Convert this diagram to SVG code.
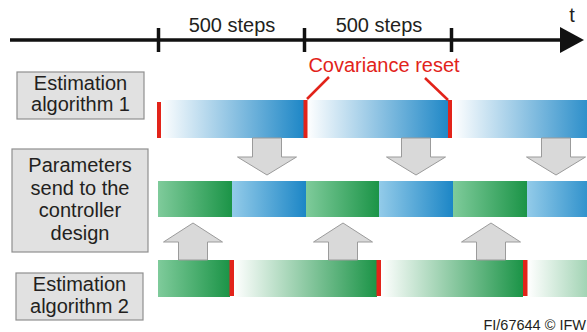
<svg xmlns="http://www.w3.org/2000/svg" width="587" height="332" viewBox="0 0 587 332">
<style>
text{font-family:"Liberation Sans",Arial,sans-serif;fill:#231f20}
.lbl{font-size:20px;text-anchor:middle}
.box{fill:#e1e1e1;stroke:#8f8f8f;stroke-width:1.2}
.red{fill:#e2231a}
.arr{fill:#d9d9d9;stroke:#9b9b9b;stroke-width:1}
.axis{stroke:#111;stroke-width:3.5;fill:none}
</style>
<defs>
<linearGradient id="wb" x1="0" x2="1" y1="0" y2="0"><stop offset="0" stop-color="#ffffff"/><stop offset="1" stop-color="#1c86c6"/></linearGradient>
<linearGradient id="lb" x1="0" x2="1" y1="0" y2="0"><stop offset="0" stop-color="#93cbe9"/><stop offset="1" stop-color="#1c86c6"/></linearGradient>
<linearGradient id="lg" x1="0" x2="1" y1="0" y2="0"><stop offset="0" stop-color="#7fcb9b"/><stop offset="1" stop-color="#1b9447"/></linearGradient>
<linearGradient id="wg" x1="0" x2="1" y1="0" y2="0"><stop offset="0" stop-color="#ffffff"/><stop offset="1" stop-color="#1b9447"/></linearGradient>
<linearGradient id="wb3" gradientUnits="userSpaceOnUse" x1="453" x2="599" y1="0" y2="0"><stop offset="0" stop-color="#ffffff"/><stop offset="1" stop-color="#1c86c6"/></linearGradient>
<linearGradient id="wg3" gradientUnits="userSpaceOnUse" x1="528" x2="674" y1="0" y2="0"><stop offset="0" stop-color="#ffffff"/><stop offset="1" stop-color="#1b9447"/></linearGradient>
<linearGradient id="lb3" gradientUnits="userSpaceOnUse" x1="527" x2="601" y1="0" y2="0"><stop offset="0" stop-color="#93cbe9"/><stop offset="1" stop-color="#1c86c6"/></linearGradient>
<symbol id="down" overflow="visible"><path class="arr" d="M-14.5,0 V19 H-29.5 L0,37 L29.5,19 H14.5 V0 Z"/></symbol>
<symbol id="up" overflow="visible"><path class="arr" d="M-14.5,0 V-18 H-29.5 L0,-37 L29.5,-18 H14.5 V0 Z"/></symbol>
</defs>

<g id="timeline">
<line class="axis" x1="10" y1="40" x2="562" y2="40"/>
<path d="M560,27 L584,40 L560,53 Z" fill="#111"/>
<line class="axis" x1="158.5" y1="28" x2="158.5" y2="52"/>
<line class="axis" x1="304.5" y1="28" x2="304.5" y2="52"/>
<line class="axis" x1="451.5" y1="28" x2="451.5" y2="52"/>
<text class="lbl" x="232" y="32">500 steps</text>
<text class="lbl" x="379" y="32">500 steps</text>
<text class="lbl" x="572" y="22">t</text>
</g>

<g id="label-est1">
<rect class="box" x="17" y="72" width="127" height="47"/>
<text class="lbl" x="80.5" y="90">Estimation</text>
<text class="lbl" x="80.5" y="111">algorithm 1</text>
</g>

<g id="label-params">
<rect class="box" x="12" y="149" width="136" height="103"/>
<text class="lbl" x="80" y="172">Parameters</text>
<text class="lbl" x="80" y="194.5">send to the</text>
<text class="lbl" x="80" y="217">controller</text>
<text class="lbl" x="80" y="239.5">design</text>
</g>

<g id="label-est2">
<rect class="box" x="16" y="273" width="127" height="47"/>
<text class="lbl" x="79.5" y="291">Estimation</text>
<text class="lbl" x="79.5" y="313">algorithm 2</text>
</g>

<g id="row-est1">
<rect x="160" y="100" width="145" height="38" fill="url(#wb)"/>
<rect x="307" y="100" width="144" height="38" fill="url(#wb)"/>
<rect x="453" y="100" width="134" height="38" fill="url(#wb3)"/>
<rect class="red" x="157" y="102" width="4" height="36"/>
<rect class="red" x="303.5" y="100" width="4" height="38"/>
<rect class="red" x="448" y="100" width="4" height="38"/>
</g>

<g id="covariance-reset">
<text x="384" y="72" font-size="20" text-anchor="middle" style="fill:#e2231a">Covariance reset</text>
<line x1="329" y1="77" x2="307" y2="99" stroke="#e2231a" stroke-width="2.5"/>
<line x1="425" y1="78" x2="448" y2="100" stroke="#e2231a" stroke-width="2.5"/>
</g>

<g id="row-params">
<rect x="158" y="181" width="74" height="36" fill="url(#lg)"/>
<rect x="232" y="181" width="74" height="36" fill="url(#lb)"/>
<rect x="306" y="181" width="73" height="36" fill="url(#lg)"/>
<rect x="379" y="181" width="74" height="36" fill="url(#lb)"/>
<rect x="453" y="181" width="74" height="36" fill="url(#lg)"/>
<rect x="527" y="181" width="60" height="36" fill="url(#lb3)"/>
</g>

<g id="row-est2">
<rect x="158" y="260" width="72" height="37" fill="url(#lg)"/>
<rect x="234" y="260" width="143" height="37" fill="url(#wg)"/>
<rect x="381" y="260" width="142" height="37" fill="url(#wg)"/>
<rect x="528" y="260" width="59" height="37" fill="url(#wg3)"/>
<rect class="red" x="229.5" y="260" width="4.5" height="36"/>
<rect class="red" x="376.5" y="260" width="4.5" height="36"/>
<rect class="red" x="523" y="260" width="4.5" height="36"/>
</g>

<g id="connectors">
<use href="#down" x="267" y="138"/>
<use href="#down" x="416" y="138"/>
<use href="#down" x="556" y="138"/>
<use href="#up" x="193" y="260"/>
<use href="#up" x="343" y="260"/>
<use href="#up" x="491" y="260"/>
</g>

<text x="586" y="330" font-size="14.5" text-anchor="end">FI/67644 © IFW</text>
</svg>
